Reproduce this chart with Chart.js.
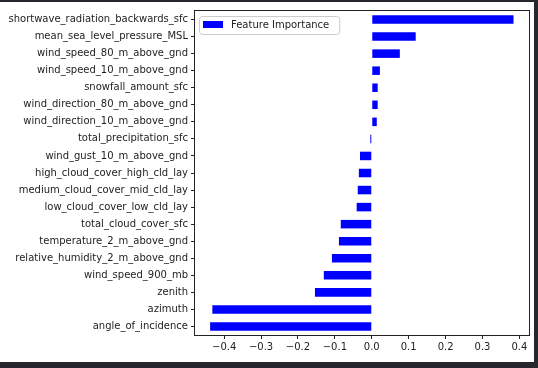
<!DOCTYPE html>
<html>
<head>
<meta charset="utf-8">
<script src="https://cdn.jsdelivr.net/npm/chart.js@4.4.1/dist/chart.umd.min.js"></script>
<style>
  html, body { margin: 0; padding: 0; background: #24272e; width: 538px; height: 368px; overflow: hidden; }
  #wrap { position: absolute; left: 0; top: 2px; width: 534px; height: 360px; background: #fff; }
</style>
</head>
<body>
<div id="wrap"><canvas id="grafico" width="534" height="360"></canvas></div>
<script>
// Nombres de las variables (de arriba hacia abajo)
const features = [
    'shortwave_radiation_backwards_sfc',
    'mean_sea_level_pressure_MSL',
    'wind_speed_80_m_above_gnd',
    'wind_speed_10_m_above_gnd',
    'snowfall_amount_sfc',
    'wind_direction_80_m_above_gnd',
    'wind_direction_10_m_above_gnd',
    'total_precipitation_sfc',
    'wind_gust_10_m_above_gnd',
    'high_cloud_cover_high_cld_lay',
    'medium_cloud_cover_mid_cld_lay',
    'low_cloud_cover_low_cld_lay',
    'total_cloud_cover_sfc',
    'temperature_2_m_above_gnd',
    'relative_humidity_2_m_above_gnd',
    'wind_speed_900_mb',
    'zenith',
    'azimuth',
    'angle_of_incidence'
];

// Importancia estimada de cada variable
const importance = [
    0.384, 0.119, 0.076, 0.022, 0.016, 0.016, 0.0135, -0.004,
    -0.032, -0.035, -0.038, -0.041, -0.084, -0.089, -0.108,
    -0.130, -0.154, -0.432, -0.438
];

const xTicks = [-0.4, -0.3, -0.2, -0.1, 0.0, 0.1, 0.2, 0.3, 0.4];

const textColor = '#222';
const fontBase = { family: 'DejaVu Sans', size: 10 };

// Marco completo alrededor del area del grafico
const marco = {
    id: 'marco',
    afterDraw(chart) {
        const { ctx, chartArea: a } = chart;
        ctx.save();
        ctx.strokeStyle = '#222';
        ctx.lineWidth = 1;
        ctx.strokeRect(Math.round(a.left) - 0.5, Math.round(a.top) - 0.5,
            Math.round(a.right - a.left) + 1, Math.round(a.bottom - a.top) + 1);
        ctx.restore();
    }
};

// Leyenda dentro del area del grafico (arriba a la izquierda)
const leyenda = {
    id: 'leyenda',
    afterDraw(chart) {
        const { ctx, chartArea: a } = chart;
        const ds = chart.data.datasets[0];
        const x = a.left + 4, y = a.top + 5;
        ctx.save();
        ctx.font = '10px "DejaVu Sans"';
        const w = 36 + ctx.measureText(ds.label).width + 6;
        const h = 18;
        ctx.beginPath();
        ctx.roundRect(x + 0.5, y + 0.5, w, h, 3);
        ctx.fillStyle = 'rgba(255,255,255,0.8)';
        ctx.fill();
        ctx.strokeStyle = '#cccccc';
        ctx.lineWidth = 1;
        ctx.stroke();
        ctx.fillStyle = ds.backgroundColor;
        ctx.fillRect(x + 4, y + 5, 20, 7);
        ctx.fillStyle = textColor;
        ctx.textBaseline = 'middle';
        ctx.fillText(ds.label, x + 32, y + 9.5);
        ctx.restore();
    }
};

const ctx = document.getElementById('grafico').getContext('2d');
new Chart(ctx, {
    type: 'bar',
    data: {
        labels: features,
        datasets: [{
            label: 'Feature Importance',
            data: importance,
            backgroundColor: '#0000ff',
            borderWidth: 0,
            barPercentage: 0.5,
            categoryPercentage: 1.0
        }]
    },
    options: {
        indexAxis: 'y',
        responsive: false,
        animation: false,
        events: [],
        layout: { padding: { top: 7, right: 5, left: 0, bottom: 0 } },
        plugins: {
            legend: { display: false },
            tooltip: { enabled: false }
        },
        scales: {
            x: {
                min: -0.479,
                max: 0.426,
                afterFit: s => { s.height = 27; },
                afterBuildTicks: s => { s.ticks = xTicks.map(v => ({ value: v })); },
                grid: { drawOnChartArea: false, drawTicks: true, tickLength: 4, color: '#222' },
                border: { display: false },
                ticks: {
                    includeBounds: false,
                    padding: 2,
                    color: textColor,
                    font: fontBase,
                    maxRotation: 0,
                    callback: v => Math.abs(v) < 1e-9 ? '0.0' : v.toFixed(1).replace('-', '\u2212')
                }
            },
            y: {
                offset: true,
                afterFit: s => { s.width = 195; },
                grid: { drawOnChartArea: false, drawTicks: true, tickLength: 4, color: '#222', offset: false },
                border: { display: false },
                ticks: {
                    padding: 3,
                    color: textColor,
                    font: fontBase,
                    autoSkip: false
                }
            }
        }
    },
    plugins: [marco, leyenda]
});
</script>
</body>
</html>
